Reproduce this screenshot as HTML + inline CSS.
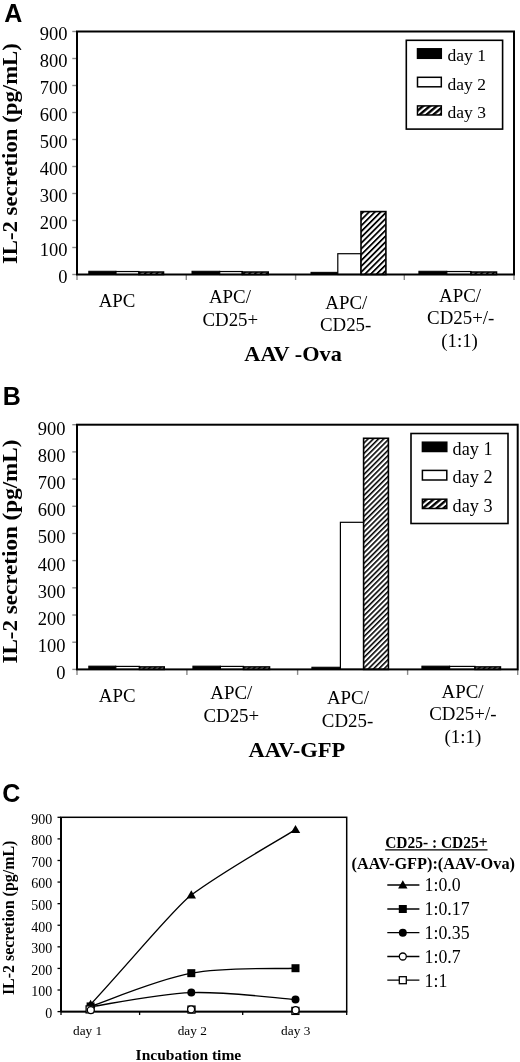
<!DOCTYPE html>
<html><head><meta charset="utf-8"><title>IL-2 secretion figure</title>
<style>html,body{margin:0;padding:0;background:#fff;width:520px;height:1062px;overflow:hidden;position:relative}</style>
</head><body>
<svg width="520" height="1062" viewBox="0 0 520 1062" style="position:absolute;left:0;top:0;filter:grayscale(1)">
<defs>
<pattern id="hatchA" patternUnits="userSpaceOnUse" width="4.1" height="4.1" patternTransform="rotate(45)"><rect x="0" y="0" width="2.0" height="4.1" fill="#000"/><rect x="2.0" y="0" width="2.1" height="4.1" fill="#fff"/></pattern>
<pattern id="hatchB" patternUnits="userSpaceOnUse" width="3.7" height="3.7" patternTransform="rotate(45)"><rect x="0" y="0" width="1.7" height="3.7" fill="#000"/><rect x="1.7" y="0" width="2.0" height="3.7" fill="#fff"/></pattern>
<pattern id="hatch2" patternUnits="userSpaceOnUse" width="4.4" height="4.4" patternTransform="rotate(50)"><rect x="0" y="0" width="2.5" height="4.4" fill="#000"/><rect x="2.5" y="0" width="1.9" height="4.4" fill="#fff"/></pattern>
</defs>
<rect x="0" y="0" width="520" height="1062" fill="#fff"/>
<line x1="72.3" y1="274.50" x2="77" y2="274.50" stroke="#8a8a8a" stroke-width="1.4"/>
<text x="67.5" y="282.80" text-anchor="end" style="font-family:'Liberation Serif',serif;font-size:18.5px" >0</text>
<line x1="72.3" y1="247.50" x2="77" y2="247.50" stroke="#8a8a8a" stroke-width="1.4"/>
<text x="67.5" y="255.80" text-anchor="end" style="font-family:'Liberation Serif',serif;font-size:18.5px" >100</text>
<line x1="72.3" y1="220.50" x2="77" y2="220.50" stroke="#8a8a8a" stroke-width="1.4"/>
<text x="67.5" y="228.80" text-anchor="end" style="font-family:'Liberation Serif',serif;font-size:18.5px" >200</text>
<line x1="72.3" y1="193.50" x2="77" y2="193.50" stroke="#8a8a8a" stroke-width="1.4"/>
<text x="67.5" y="201.80" text-anchor="end" style="font-family:'Liberation Serif',serif;font-size:18.5px" >300</text>
<line x1="72.3" y1="166.50" x2="77" y2="166.50" stroke="#8a8a8a" stroke-width="1.4"/>
<text x="67.5" y="174.80" text-anchor="end" style="font-family:'Liberation Serif',serif;font-size:18.5px" >400</text>
<line x1="72.3" y1="139.50" x2="77" y2="139.50" stroke="#8a8a8a" stroke-width="1.4"/>
<text x="67.5" y="147.80" text-anchor="end" style="font-family:'Liberation Serif',serif;font-size:18.5px" >500</text>
<line x1="72.3" y1="112.50" x2="77" y2="112.50" stroke="#8a8a8a" stroke-width="1.4"/>
<text x="67.5" y="120.80" text-anchor="end" style="font-family:'Liberation Serif',serif;font-size:18.5px" >600</text>
<line x1="72.3" y1="85.50" x2="77" y2="85.50" stroke="#8a8a8a" stroke-width="1.4"/>
<text x="67.5" y="93.80" text-anchor="end" style="font-family:'Liberation Serif',serif;font-size:18.5px" >700</text>
<line x1="72.3" y1="58.50" x2="77" y2="58.50" stroke="#8a8a8a" stroke-width="1.4"/>
<text x="67.5" y="66.80" text-anchor="end" style="font-family:'Liberation Serif',serif;font-size:18.5px" >800</text>
<line x1="72.3" y1="31.50" x2="77" y2="31.50" stroke="#8a8a8a" stroke-width="1.4"/>
<text x="67.5" y="39.80" text-anchor="end" style="font-family:'Liberation Serif',serif;font-size:18.5px" >900</text>
<line x1="77" y1="274.5" x2="77" y2="280.0" stroke="#8a8a8a" stroke-width="1.4"/>
<line x1="186.3" y1="274.5" x2="186.3" y2="280.0" stroke="#8a8a8a" stroke-width="1.4"/>
<line x1="295.6" y1="274.5" x2="295.6" y2="280.0" stroke="#8a8a8a" stroke-width="1.4"/>
<line x1="404.3" y1="274.5" x2="404.3" y2="280.0" stroke="#8a8a8a" stroke-width="1.4"/>
<line x1="514" y1="274.5" x2="514" y2="280.0" stroke="#8a8a8a" stroke-width="1.4"/>
<rect x="88.80" y="271.26" width="27.20" height="3.24" fill="#000" stroke="#000" stroke-width="1"/>
<rect x="116.00" y="271.53" width="23.00" height="2.97" fill="#fff" stroke="#000" stroke-width="1.2"/>
<rect x="139.00" y="272.07" width="24.50" height="2.43" fill="url(#hatchA)" stroke="#000" stroke-width="1.6"/>
<rect x="192.00" y="271.26" width="27.70" height="3.24" fill="#000" stroke="#000" stroke-width="1"/>
<rect x="219.70" y="271.53" width="22.60" height="2.97" fill="#fff" stroke="#000" stroke-width="1.2"/>
<rect x="242.30" y="272.07" width="25.90" height="2.43" fill="url(#hatchA)" stroke="#000" stroke-width="1.6"/>
<rect x="311.00" y="272.34" width="26.80" height="2.16" fill="#000" stroke="#000" stroke-width="1"/>
<rect x="337.80" y="253.71" width="23.20" height="20.79" fill="#fff" stroke="#000" stroke-width="1.2"/>
<rect x="361.00" y="211.59" width="24.90" height="62.91" fill="url(#hatchA)" stroke="#000" stroke-width="1.6"/>
<rect x="418.90" y="271.26" width="27.90" height="3.24" fill="#000" stroke="#000" stroke-width="1"/>
<rect x="446.80" y="271.53" width="24.20" height="2.97" fill="#fff" stroke="#000" stroke-width="1.2"/>
<rect x="471.00" y="272.07" width="25.50" height="2.43" fill="url(#hatchA)" stroke="#000" stroke-width="1.6"/>
<rect x="77" y="31.5" width="437" height="243.0" fill="none" stroke="#000" stroke-width="2"/>
<rect x="406.3" y="40.3" width="96.30000000000001" height="88.8" fill="#fff" stroke="#000" stroke-width="1.6"/>
<rect x="417.5" y="48.8" width="23.80000000000001" height="9.5" fill="#000" stroke="#000" stroke-width="1.5"/>
<text x="447.6" y="61.4" text-anchor="start" style="font-family:'Liberation Serif',serif;font-size:17.5px" >day 1</text>
<rect x="417.5" y="77.3" width="23.80000000000001" height="9.5" fill="#fff" stroke="#000" stroke-width="1.5"/>
<text x="447.6" y="89.9" text-anchor="start" style="font-family:'Liberation Serif',serif;font-size:17.5px" >day 2</text>
<rect x="417.5" y="105.9" width="23.80000000000001" height="9.099999999999994" fill="url(#hatch2)" stroke="#000" stroke-width="1.5"/>
<text x="447.6" y="118.4" text-anchor="start" style="font-family:'Liberation Serif',serif;font-size:17.5px" >day 3</text>
<text transform="translate(117.05,306.5) scale(1.05,1)" text-anchor="middle" style="font-family:'Liberation Serif',serif;font-size:18px">APC</text>
<text transform="translate(229.9,303) scale(1.05,1)" text-anchor="middle" style="font-family:'Liberation Serif',serif;font-size:18px">APC/</text>
<text transform="translate(230.3,326.3) scale(1.05,1)" text-anchor="middle" style="font-family:'Liberation Serif',serif;font-size:18px">CD25+</text>
<text transform="translate(346.25,308.8) scale(1.05,1)" text-anchor="middle" style="font-family:'Liberation Serif',serif;font-size:18px">APC/</text>
<text transform="translate(345.6,331) scale(1.05,1)" text-anchor="middle" style="font-family:'Liberation Serif',serif;font-size:18px">CD25-</text>
<text transform="translate(460,302) scale(1.05,1)" text-anchor="middle" style="font-family:'Liberation Serif',serif;font-size:18px">APC/</text>
<text transform="translate(460.75,324.2) scale(1.05,1)" text-anchor="middle" style="font-family:'Liberation Serif',serif;font-size:18px">CD25+/-</text>
<text transform="translate(459.55,346.8) scale(1.05,1)" text-anchor="middle" style="font-family:'Liberation Serif',serif;font-size:18px">(1:1)</text>
<text x="244.3" y="360.7" text-anchor="start" style="font-family:'Liberation Serif',serif;font-weight:bold;font-size:21.5px"  textLength="97.6" lengthAdjust="spacingAndGlyphs">AAV -Ova</text>
<text transform="translate(17,153.6) rotate(-90)" text-anchor="middle" textLength="221" lengthAdjust="spacingAndGlyphs" style="font-family:'Liberation Serif',serif;font-weight:bold;font-size:21.5px">IL-2 secretion (pg/mL)</text>
<text x="4.3" y="22" text-anchor="start" style="font-family:'Liberation Sans',sans-serif;font-weight:bold;font-size:25px" >A</text>
<line x1="72.3" y1="669.40" x2="77" y2="669.40" stroke="#8a8a8a" stroke-width="1.4"/>
<text x="65.5" y="679.40" text-anchor="end" style="font-family:'Liberation Serif',serif;font-size:18.5px" >0</text>
<line x1="72.3" y1="642.21" x2="77" y2="642.21" stroke="#8a8a8a" stroke-width="1.4"/>
<text x="65.5" y="652.21" text-anchor="end" style="font-family:'Liberation Serif',serif;font-size:18.5px" >100</text>
<line x1="72.3" y1="615.02" x2="77" y2="615.02" stroke="#8a8a8a" stroke-width="1.4"/>
<text x="65.5" y="625.02" text-anchor="end" style="font-family:'Liberation Serif',serif;font-size:18.5px" >200</text>
<line x1="72.3" y1="587.83" x2="77" y2="587.83" stroke="#8a8a8a" stroke-width="1.4"/>
<text x="65.5" y="597.83" text-anchor="end" style="font-family:'Liberation Serif',serif;font-size:18.5px" >300</text>
<line x1="72.3" y1="560.64" x2="77" y2="560.64" stroke="#8a8a8a" stroke-width="1.4"/>
<text x="65.5" y="570.64" text-anchor="end" style="font-family:'Liberation Serif',serif;font-size:18.5px" >400</text>
<line x1="72.3" y1="533.46" x2="77" y2="533.46" stroke="#8a8a8a" stroke-width="1.4"/>
<text x="65.5" y="543.46" text-anchor="end" style="font-family:'Liberation Serif',serif;font-size:18.5px" >500</text>
<line x1="72.3" y1="506.27" x2="77" y2="506.27" stroke="#8a8a8a" stroke-width="1.4"/>
<text x="65.5" y="516.27" text-anchor="end" style="font-family:'Liberation Serif',serif;font-size:18.5px" >600</text>
<line x1="72.3" y1="479.08" x2="77" y2="479.08" stroke="#8a8a8a" stroke-width="1.4"/>
<text x="65.5" y="489.08" text-anchor="end" style="font-family:'Liberation Serif',serif;font-size:18.5px" >700</text>
<line x1="72.3" y1="451.89" x2="77" y2="451.89" stroke="#8a8a8a" stroke-width="1.4"/>
<text x="65.5" y="461.89" text-anchor="end" style="font-family:'Liberation Serif',serif;font-size:18.5px" >800</text>
<line x1="72.3" y1="424.70" x2="77" y2="424.70" stroke="#8a8a8a" stroke-width="1.4"/>
<text x="65.5" y="434.70" text-anchor="end" style="font-family:'Liberation Serif',serif;font-size:18.5px" >900</text>
<line x1="77" y1="669.4" x2="77" y2="674.9" stroke="#8a8a8a" stroke-width="1.4"/>
<line x1="186.9" y1="669.4" x2="186.9" y2="674.9" stroke="#8a8a8a" stroke-width="1.4"/>
<line x1="297.6" y1="669.4" x2="297.6" y2="674.9" stroke="#8a8a8a" stroke-width="1.4"/>
<line x1="407.6" y1="669.4" x2="407.6" y2="674.9" stroke="#8a8a8a" stroke-width="1.4"/>
<line x1="517.7" y1="669.4" x2="517.7" y2="674.9" stroke="#8a8a8a" stroke-width="1.4"/>
<rect x="88.80" y="666.14" width="27.00" height="3.26" fill="#000" stroke="#000" stroke-width="1"/>
<rect x="115.80" y="666.41" width="23.70" height="2.99" fill="#fff" stroke="#000" stroke-width="1.2"/>
<rect x="139.50" y="666.95" width="24.70" height="2.45" fill="url(#hatchB)" stroke="#000" stroke-width="1.6"/>
<rect x="192.90" y="666.14" width="27.50" height="3.26" fill="#000" stroke="#000" stroke-width="1"/>
<rect x="220.40" y="666.41" width="23.10" height="2.99" fill="#fff" stroke="#000" stroke-width="1.2"/>
<rect x="243.50" y="666.95" width="26.00" height="2.45" fill="url(#hatchB)" stroke="#000" stroke-width="1.6"/>
<rect x="311.90" y="667.22" width="28.50" height="2.18" fill="#000" stroke="#000" stroke-width="1"/>
<rect x="340.40" y="522.31" width="23.20" height="147.09" fill="#fff" stroke="#000" stroke-width="1.2"/>
<rect x="363.60" y="438.29" width="24.80" height="231.11" fill="url(#hatchB)" stroke="#000" stroke-width="1.6"/>
<rect x="421.90" y="666.14" width="27.70" height="3.26" fill="#000" stroke="#000" stroke-width="1"/>
<rect x="449.60" y="666.41" width="25.40" height="2.99" fill="#fff" stroke="#000" stroke-width="1.2"/>
<rect x="475.00" y="666.95" width="25.40" height="2.45" fill="url(#hatchB)" stroke="#000" stroke-width="1.6"/>
<rect x="77" y="424.7" width="440.70000000000005" height="244.7" fill="none" stroke="#000" stroke-width="2"/>
<rect x="411" y="433.5" width="97" height="90.0" fill="#fff" stroke="#000" stroke-width="1.6"/>
<rect x="422.4" y="442.2" width="24.400000000000034" height="9.300000000000011" fill="#000" stroke="#000" stroke-width="1.5"/>
<text x="452.6" y="454.5" text-anchor="start" style="font-family:'Liberation Serif',serif;font-size:18.2px" >day 1</text>
<rect x="422.4" y="470.4" width="24.400000000000034" height="9.600000000000023" fill="#fff" stroke="#000" stroke-width="1.5"/>
<text x="452.6" y="483" text-anchor="start" style="font-family:'Liberation Serif',serif;font-size:18.2px" >day 2</text>
<rect x="422.4" y="499.2" width="24.400000000000034" height="9.300000000000011" fill="url(#hatch2)" stroke="#000" stroke-width="1.5"/>
<text x="452.6" y="511.5" text-anchor="start" style="font-family:'Liberation Serif',serif;font-size:18.2px" >day 3</text>
<text transform="translate(117.2,701.5) scale(1.05,1)" text-anchor="middle" style="font-family:'Liberation Serif',serif;font-size:18px">APC</text>
<text transform="translate(231.35,699) scale(1.05,1)" text-anchor="middle" style="font-family:'Liberation Serif',serif;font-size:18px">APC/</text>
<text transform="translate(231.3,722.1) scale(1.05,1)" text-anchor="middle" style="font-family:'Liberation Serif',serif;font-size:18px">CD25+</text>
<text transform="translate(347.9,704.2) scale(1.05,1)" text-anchor="middle" style="font-family:'Liberation Serif',serif;font-size:18px">APC/</text>
<text transform="translate(347.5,726.9) scale(1.05,1)" text-anchor="middle" style="font-family:'Liberation Serif',serif;font-size:18px">CD25-</text>
<text transform="translate(462.5,697.5) scale(1.05,1)" text-anchor="middle" style="font-family:'Liberation Serif',serif;font-size:18px">APC/</text>
<text transform="translate(462.85,720.2) scale(1.05,1)" text-anchor="middle" style="font-family:'Liberation Serif',serif;font-size:18px">CD25+/-</text>
<text transform="translate(462.9,742.8) scale(1.05,1)" text-anchor="middle" style="font-family:'Liberation Serif',serif;font-size:18px">(1:1)</text>
<text x="248.5" y="756.9" text-anchor="start" style="font-family:'Liberation Serif',serif;font-weight:bold;font-size:21.5px"  textLength="96.9" lengthAdjust="spacingAndGlyphs">AAV-GFP</text>
<text transform="translate(17,551.6) rotate(-90)" text-anchor="middle" textLength="224" lengthAdjust="spacingAndGlyphs" style="font-family:'Liberation Serif',serif;font-weight:bold;font-size:21.5px">IL-2 secretion (pg/mL)</text>
<text x="2.7" y="404.5" text-anchor="start" style="font-family:'Liberation Sans',sans-serif;font-weight:bold;font-size:25px" >B</text>
<line x1="57.5" y1="1011.60" x2="61" y2="1011.60" stroke="#000" stroke-width="1.3"/>
<text x="52.3" y="1018.00" text-anchor="end" style="font-family:'Liberation Serif',serif;font-size:14px" >0</text>
<line x1="57.5" y1="990.01" x2="61" y2="990.01" stroke="#000" stroke-width="1.3"/>
<text x="52.3" y="996.41" text-anchor="end" style="font-family:'Liberation Serif',serif;font-size:14px" >100</text>
<line x1="57.5" y1="968.42" x2="61" y2="968.42" stroke="#000" stroke-width="1.3"/>
<text x="52.3" y="974.82" text-anchor="end" style="font-family:'Liberation Serif',serif;font-size:14px" >200</text>
<line x1="57.5" y1="946.83" x2="61" y2="946.83" stroke="#000" stroke-width="1.3"/>
<text x="52.3" y="953.23" text-anchor="end" style="font-family:'Liberation Serif',serif;font-size:14px" >300</text>
<line x1="57.5" y1="925.24" x2="61" y2="925.24" stroke="#000" stroke-width="1.3"/>
<text x="52.3" y="931.64" text-anchor="end" style="font-family:'Liberation Serif',serif;font-size:14px" >400</text>
<line x1="57.5" y1="903.66" x2="61" y2="903.66" stroke="#000" stroke-width="1.3"/>
<text x="52.3" y="910.06" text-anchor="end" style="font-family:'Liberation Serif',serif;font-size:14px" >500</text>
<line x1="57.5" y1="882.07" x2="61" y2="882.07" stroke="#000" stroke-width="1.3"/>
<text x="52.3" y="888.47" text-anchor="end" style="font-family:'Liberation Serif',serif;font-size:14px" >600</text>
<line x1="57.5" y1="860.48" x2="61" y2="860.48" stroke="#000" stroke-width="1.3"/>
<text x="52.3" y="866.88" text-anchor="end" style="font-family:'Liberation Serif',serif;font-size:14px" >700</text>
<line x1="57.5" y1="838.89" x2="61" y2="838.89" stroke="#000" stroke-width="1.3"/>
<text x="52.3" y="845.29" text-anchor="end" style="font-family:'Liberation Serif',serif;font-size:14px" >800</text>
<line x1="57.5" y1="817.30" x2="61" y2="817.30" stroke="#000" stroke-width="1.3"/>
<text x="52.3" y="823.70" text-anchor="end" style="font-family:'Liberation Serif',serif;font-size:14px" >900</text>
<line x1="61" y1="1011.6" x2="61" y2="1015.0" stroke="#000" stroke-width="1.3"/>
<line x1="139.6" y1="1011.6" x2="139.6" y2="1015.0" stroke="#000" stroke-width="1.3"/>
<line x1="242.7" y1="1011.6" x2="242.7" y2="1015.0" stroke="#000" stroke-width="1.3"/>
<line x1="346.7" y1="1011.6" x2="346.7" y2="1015.0" stroke="#000" stroke-width="1.3"/>
<rect x="61" y="817.3" width="285.7" height="194.30000000000007" fill="none" stroke="#000" stroke-width="1.5"/>
<line x1="61" y1="817.3" x2="61" y2="1011.6" stroke="#000" stroke-width="1.9"/>
<line x1="61" y1="1011.6" x2="346.7" y2="1011.6" stroke="#000" stroke-width="1.9"/>
<path d="M90.60,1004.48 C135.92,955.22 175.30,906.86 191.30,895.02 C225.30,869.86 278.13,840.51 295.50,829.61" fill="none" stroke="#000" stroke-width="1.4"/>
<path d="M90.60,1006.42 C107.38,1000.88 157.15,979.54 191.30,973.17 C225.45,966.80 278.13,969.03 295.50,968.21" fill="none" stroke="#000" stroke-width="1.4"/>
<path d="M90.60,1006.85 C107.38,1004.48 157.15,993.83 191.30,992.60 C225.45,991.38 278.13,998.36 295.50,999.51" fill="none" stroke="#000" stroke-width="1.4"/>
<path d="M90.60,999.78 L95.30,1007.98 L85.90,1007.98 Z" fill="#000"/>
<path d="M191.30,890.32 L196.00,898.52 L186.60,898.52 Z" fill="#000"/>
<path d="M295.50,824.91 L300.20,833.11 L290.80,833.11 Z" fill="#000"/>
<rect x="86.60" y="1002.42" width="8" height="8" fill="#000"/>
<rect x="187.30" y="969.17" width="8" height="8" fill="#000"/>
<rect x="291.50" y="964.21" width="8" height="8" fill="#000"/>
<circle cx="90.60" cy="1006.85" r="4" fill="#000"/>
<circle cx="191.30" cy="992.60" r="4" fill="#000"/>
<circle cx="295.50" cy="999.51" r="4" fill="#000"/>
<rect x="86.10" y="1005.90" width="7" height="7" fill="#fff" stroke="#000" stroke-width="1.3"/>
<rect x="188.00" y="1006.10" width="7" height="7" fill="#fff" stroke="#000" stroke-width="1.3"/>
<rect x="291.90" y="1007.40" width="7" height="7" fill="#fff" stroke="#000" stroke-width="1.3"/>
<circle cx="90.80" cy="1010.10" r="3.5" fill="#fff" stroke="#000" stroke-width="1.3"/>
<circle cx="191.10" cy="1009.30" r="3.5" fill="#fff" stroke="#000" stroke-width="1.3"/>
<circle cx="295.60" cy="1010.20" r="3.5" fill="#fff" stroke="#000" stroke-width="1.3"/>
<text x="87.6" y="1034.7" text-anchor="middle" style="font-family:'Liberation Serif',serif;font-size:13.3px" >day 1</text>
<text x="192.3" y="1034.7" text-anchor="middle" style="font-family:'Liberation Serif',serif;font-size:13.3px" >day 2</text>
<text x="295.7" y="1034.7" text-anchor="middle" style="font-family:'Liberation Serif',serif;font-size:13.3px" >day 3</text>
<text x="188.4" y="1060.2" text-anchor="middle" style="font-family:'Liberation Serif',serif;font-weight:bold;font-size:15.5px"  textLength="105.6" lengthAdjust="spacingAndGlyphs">Incubation time</text>
<text transform="translate(13.5,917.9) rotate(-90)" text-anchor="middle" textLength="154.4" lengthAdjust="spacingAndGlyphs" style="font-family:'Liberation Serif',serif;font-weight:bold;font-size:16px">IL-2 secretion (pg/mL)</text>
<text x="2.3" y="801.5" text-anchor="start" style="font-family:'Liberation Sans',sans-serif;font-weight:bold;font-size:25px" >C</text>
<text x="385.2" y="847.6" text-anchor="start" style="font-family:'Liberation Serif',serif;font-weight:bold;font-size:16px"  textLength="102.3" lengthAdjust="spacingAndGlyphs">CD25- : CD25+</text>
<line x1="385.2" y1="849.9" x2="487.5" y2="849.9" stroke="#000" stroke-width="1.3"/>
<text x="351.6" y="868.6" text-anchor="start" style="font-family:'Liberation Serif',serif;font-weight:bold;font-size:16px"  textLength="163.4" lengthAdjust="spacingAndGlyphs">(AAV-GFP):(AAV-Ova)</text>
<line x1="387.3" y1="885" x2="419.4" y2="885" stroke="#000" stroke-width="1.3"/>
<path d="M402.80,880.30 L407.50,888.50 L398.10,888.50 Z" fill="#000"/>
<text x="424.6" y="891.4" text-anchor="start" style="font-family:'Liberation Serif',serif;font-size:17.8px" >1:0.0</text>
<line x1="387.3" y1="909" x2="419.4" y2="909" stroke="#000" stroke-width="1.3"/>
<rect x="398.80" y="905.00" width="8" height="8" fill="#000"/>
<text x="424.6" y="915.4" text-anchor="start" style="font-family:'Liberation Serif',serif;font-size:17.8px" >1:0.17</text>
<line x1="387.3" y1="932.7" x2="419.4" y2="932.7" stroke="#000" stroke-width="1.3"/>
<circle cx="402.80" cy="932.70" r="4" fill="#000"/>
<text x="424.6" y="939.1" text-anchor="start" style="font-family:'Liberation Serif',serif;font-size:17.8px" >1:0.35</text>
<line x1="387.3" y1="956.5" x2="419.4" y2="956.5" stroke="#000" stroke-width="1.3"/>
<circle cx="402.80" cy="956.50" r="3.5" fill="#fff" stroke="#000" stroke-width="1.3"/>
<text x="424.6" y="962.9" text-anchor="start" style="font-family:'Liberation Serif',serif;font-size:17.8px" >1:0.7</text>
<line x1="387.3" y1="980.2" x2="419.4" y2="980.2" stroke="#000" stroke-width="1.3"/>
<rect x="399.30" y="976.70" width="7" height="7" fill="#fff" stroke="#000" stroke-width="1.3"/>
<text x="424.6" y="986.6" text-anchor="start" style="font-family:'Liberation Serif',serif;font-size:17.8px" >1:1</text>
</svg>
</body></html>
